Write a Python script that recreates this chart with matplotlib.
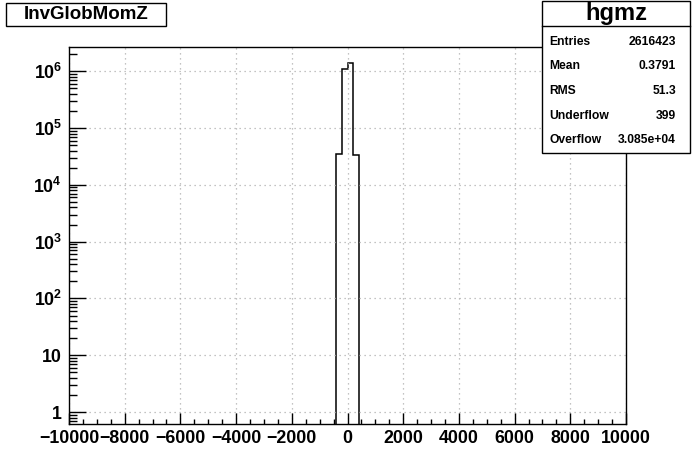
import numpy as np
import matplotlib
matplotlib.use('Agg')
from matplotlib import pyplot as plt
from matplotlib.patches import Rectangle
from matplotlib.ticker import FixedLocator, FixedFormatter, MultipleLocator, LogLocator, NullFormatter

plt.rcParams['font.family'] = ['Liberation Sans', 'DejaVu Sans']
plt.rcParams['font.weight'] = 'bold'
plt.rcParams['mathtext.fontset'] = 'custom'
plt.rcParams['mathtext.rm'] = 'Liberation Sans:bold'
plt.rcParams['mathtext.bf'] = 'Liberation Sans:bold'
plt.rcParams['mathtext.it'] = 'Liberation Sans:bold'

# histogram data (only non-empty bins, bin width 200)
bin_edges = [-400, -200, 0, 200, 400]
counts = [3.44e4, 1.11e6, 1.41e6, 3.40e4]

hist_title = 'InvGlobMomZ'
stat_name = 'hgmz'
stat_labels = ['Entries', 'Mean', 'RMS', 'Underflow', 'Overflow']
stat_values = ['2616423', '0.3791', '51.3', '399', '3.085e+04']

x_ticks = [-10000, -8000, -6000, -4000, -2000, 0, 2000, 4000, 6000, 8000, 10000]
y_ticks = [1, 10, 1e2, 1e3, 1e4, 1e5, 1e6]
y_labels = ['1', '10', r'$10^{2}$', r'$10^{3}$', r'$10^{4}$', r'$10^{5}$', r'$10^{6}$']

W, H = 696, 472
fig = plt.figure(figsize=(W / 100, H / 100), dpi=100)
ax = fig.add_axes([69 / W, 1 - 424 / H, (626 - 69) / W, (424 - 47) / H])

ax.stairs(counts, bin_edges, baseline=1e-3, color='black', linewidth=1.1)
ax.set_yscale('log')
ax.set_xlim(-10000, 10000)
ax.set_ylim(0.615, 2.68e6)

ax.xaxis.set_major_locator(FixedLocator(x_ticks))
ax.set_xticklabels([str(t).replace('-', '\u2212') for t in x_ticks])
ax.xaxis.set_minor_locator(MultipleLocator(500))
ax.yaxis.set_major_locator(FixedLocator(y_ticks))
ax.yaxis.set_major_formatter(FixedFormatter(y_labels))
ax.yaxis.set_minor_locator(LogLocator(base=10, subs=np.arange(2, 10)))
ax.yaxis.set_minor_formatter(NullFormatter())

ax.tick_params(axis='both', which='both', direction='in', top=False, right=False,
               labelsize=12.8, width=1)
ax.tick_params(axis='x', which='major', length=8, pad=4)
ax.tick_params(axis='x', which='minor', length=3.6)
ax.tick_params(axis='y', which='major', length=12, pad=5)
ax.tick_params(axis='y', which='minor', length=6)
for lab in ax.get_xticklabels() + ax.get_yticklabels():
    lab.set_fontweight('bold')

ax.grid(True, which='major', linestyle=(0, (1, 3)), color='#b0b0b0', linewidth=0.9)
for s in ax.spines.values():
    s.set_linewidth(1)

# title box
fig.patches.append(Rectangle((6 / W, 1 - 26 / H), 160 / W, 23 / H, transform=fig.transFigure,
                             facecolor='white', edgecolor='black', linewidth=1, zorder=5))
fig.text(86 / W, 1 - 14.5 / H, hist_title, ha='center', va='center', fontsize=13.5,
         fontweight='bold', zorder=6)

# stats box
bx0, bx1, by0, by1 = 542, 690, 1, 153
fig.patches.append(Rectangle((bx0 / W, 1 - by1 / H), (bx1 - bx0) / W, (by1 - by0) / H,
                             transform=fig.transFigure, facecolor='white', edgecolor='black',
                             linewidth=1, zorder=5))
fig.lines.append(plt.Line2D([bx0 / W, bx1 / W], [1 - 26 / H, 1 - 26 / H],
                            transform=fig.transFigure, color='black', linewidth=1, zorder=6))
fig.text((bx0 + bx1) / 2 / W, 1 - 13.5 / H, stat_name, ha='center', va='center',
         fontsize=17, fontweight='bold', zorder=7)
row_y = [42, 66, 91, 116, 140]
for lab, val, yy in zip(stat_labels, stat_values, row_y):
    fig.text(549 / W, 1 - yy / H, lab, ha='left', va='center', fontsize=8.7,
             fontweight='bold', zorder=7)
    fig.text(676 / W, 1 - yy / H, val, ha='right', va='center', fontsize=8.7,
             fontweight='bold', zorder=7)

fig.savefig('out.png', dpi=100)
